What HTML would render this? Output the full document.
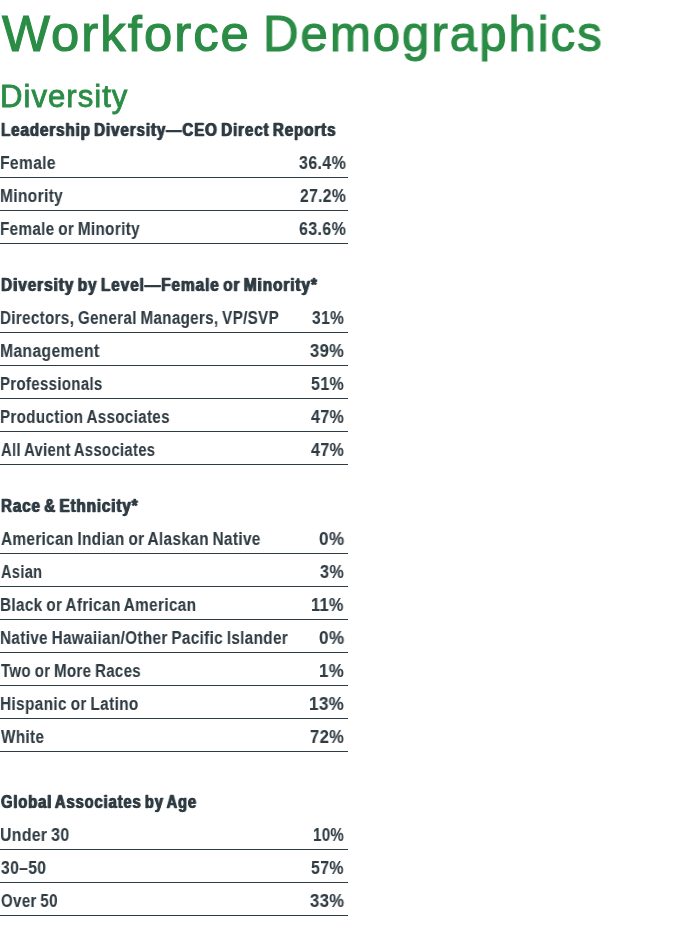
<!DOCTYPE html>
<html><head><meta charset="utf-8">
<style>
html,body{margin:0;padding:0;background:#fff;}
body{width:689px;height:939px;position:relative;overflow:hidden;font-family:"Liberation Sans",sans-serif;}
body>div{position:absolute;white-space:nowrap;transform-origin:0 0;will-change:transform;}
.title{font-size:50px;line-height:60px;letter-spacing:2px;color:#2a8c45;-webkit-text-stroke:1.1px #2a8c45;}
.sub{font-size:31px;line-height:36px;letter-spacing:1px;color:#2a8c45;-webkit-text-stroke:0.8px #2a8c45;}
.hd{font-size:17.5px;line-height:20px;font-weight:bold;letter-spacing:1px;word-spacing:-2px;color:#303c44;-webkit-text-stroke:0.35px #303c44;text-shadow:0.6px 0 0 #303c44,-0.6px 0 0 #303c44;}
.rw{font-size:17.5px;line-height:20px;font-weight:bold;letter-spacing:0.4px;word-spacing:-1px;color:#303c44;-webkit-text-stroke:0.1px #303c44;}
.ln{left:0;width:348px;height:1px;background:#303c44;}
</style></head><body>
<div id="t1" class="title" style="left:1.80px;top:4.00px;transform:scaleX(1.0162)">Workforce</div>
<div id="t2" class="title" style="left:262.55px;top:4.00px;transform:scaleX(0.9838)">Demographics</div>
<div id="dv" class="sub" style="left:-0.01px;top:79.00px;transform:scaleX(1.0048)">Diversity</div>
<div id="h0" class="hd" style="left:1.00px;top:120.00px;transform:scaleX(0.8688)">Leadership Diversity—CEO Direct Reports</div>
<div id="l0_0" class="rw" style="left:0.11px;top:153.00px;transform:scaleX(0.8918)">Female</div>
<div id="v0_0" class="rw" style="left:299.00px;top:153.00px;transform:scaleX(0.9118)">36.4%</div>
<div id="l0_1" class="rw" style="left:0.11px;top:186.00px;transform:scaleX(0.8857)">Minority</div>
<div id="v0_1" class="rw" style="left:300.00px;top:186.00px;transform:scaleX(0.8922)">27.2%</div>
<div id="l0_2" class="rw" style="left:0.13px;top:219.00px;transform:scaleX(0.8700)">Female or Minority</div>
<div id="v0_2" class="rw" style="left:299.00px;top:219.00px;transform:scaleX(0.9118)">63.6%</div>
<div id="h1" class="hd" style="left:1.00px;top:275.00px;transform:scaleX(0.8832)">Diversity by Level—Female or Minority*</div>
<div id="l1_0" class="rw" style="left:0.13px;top:308.00px;transform:scaleX(0.8660)">Directors, General Managers, VP/SVP</div>
<div id="v1_0" class="rw" style="left:312.00px;top:308.00px;transform:scaleX(0.8889)">31%</div>
<div id="l1_1" class="rw" style="left:0.10px;top:341.00px;transform:scaleX(0.8964)">Management</div>
<div id="v1_1" class="rw" style="left:310.00px;top:341.00px;transform:scaleX(0.9444)">39%</div>
<div id="l1_2" class="rw" style="left:0.14px;top:374.00px;transform:scaleX(0.8559)">Professionals</div>
<div id="v1_2" class="rw" style="left:311.09px;top:374.00px;transform:scaleX(0.9143)">51%</div>
<div id="l1_3" class="rw" style="left:0.13px;top:407.00px;transform:scaleX(0.8651)">Production Associates</div>
<div id="v1_3" class="rw" style="left:311.00px;top:407.00px;transform:scaleX(0.9167)">47%</div>
<div id="l1_4" class="rw" style="left:1.00px;top:440.00px;transform:scaleX(0.8462)">All Avient Associates</div>
<div id="v1_4" class="rw" style="left:311.00px;top:440.00px;transform:scaleX(0.9167)">47%</div>
<div id="h2" class="hd" style="left:1.00px;top:496.00px;transform:scaleX(0.8703)">Race &amp; Ethnicity*</div>
<div id="l2_0" class="rw" style="left:1.00px;top:529.00px;transform:scaleX(0.8760)">American Indian or Alaskan Native</div>
<div id="v2_0" class="rw" style="left:318.70px;top:529.00px;transform:scaleX(0.9731)">0%</div>
<div id="l2_1" class="rw" style="left:1.00px;top:562.00px;transform:scaleX(0.8333)">Asian</div>
<div id="v2_1" class="rw" style="left:320.00px;top:562.00px;transform:scaleX(0.9231)">3%</div>
<div id="l2_2" class="rw" style="left:0.13px;top:595.00px;transform:scaleX(0.8743)">Black or African American</div>
<div id="v2_2" class="rw" style="left:311.47px;top:595.00px;transform:scaleX(0.9294)">11%</div>
<div id="l2_3" class="rw" style="left:0.13px;top:628.00px;transform:scaleX(0.8723)">Native Hawaiian/Other Pacific Islander</div>
<div id="v2_3" class="rw" style="left:318.70px;top:628.00px;transform:scaleX(0.9731)">0%</div>
<div id="l2_4" class="rw" style="left:1.00px;top:661.00px;transform:scaleX(0.8593)">Two or More Races</div>
<div id="v2_4" class="rw" style="left:319.04px;top:661.00px;transform:scaleX(0.9600)">1%</div>
<div id="l2_5" class="rw" style="left:0.12px;top:694.00px;transform:scaleX(0.8782)">Hispanic or Latino</div>
<div id="v2_5" class="rw" style="left:309.03px;top:694.00px;transform:scaleX(0.9714)">13%</div>
<div id="l2_6" class="rw" style="left:1.00px;top:727.00px;transform:scaleX(0.8714)">White</div>
<div id="v2_6" class="rw" style="left:310.00px;top:727.00px;transform:scaleX(0.9444)">72%</div>
<div id="h3" class="hd" style="left:1.00px;top:792.00px;transform:scaleX(0.8463)">Global Associates by Age</div>
<div id="l3_0" class="rw" style="left:0.10px;top:825.00px;transform:scaleX(0.9013)">Under 30</div>
<div id="v3_0" class="rw" style="left:313.04px;top:825.00px;transform:scaleX(0.8600)">10%</div>
<div id="l3_1" class="rw" style="left:1.00px;top:858.00px;transform:scaleX(0.8940)">30–50</div>
<div id="v3_1" class="rw" style="left:311.39px;top:858.00px;transform:scaleX(0.9057)">57%</div>
<div id="l3_2" class="rw" style="left:1.00px;top:891.00px;transform:scaleX(0.8600)">Over 50</div>
<div id="v3_2" class="rw" style="left:309.80px;top:891.00px;transform:scaleX(0.9500)">33%</div>
<div class="ln" style="top:177px"></div>
<div class="ln" style="top:210px"></div>
<div class="ln" style="top:243px"></div>
<div class="ln" style="top:332px"></div>
<div class="ln" style="top:365px"></div>
<div class="ln" style="top:398px"></div>
<div class="ln" style="top:431px"></div>
<div class="ln" style="top:464px"></div>
<div class="ln" style="top:553px"></div>
<div class="ln" style="top:586px"></div>
<div class="ln" style="top:619px"></div>
<div class="ln" style="top:652px"></div>
<div class="ln" style="top:685px"></div>
<div class="ln" style="top:718px"></div>
<div class="ln" style="top:751px"></div>
<div class="ln" style="top:849px"></div>
<div class="ln" style="top:882px"></div>
<div class="ln" style="top:915px"></div>
</body></html>
